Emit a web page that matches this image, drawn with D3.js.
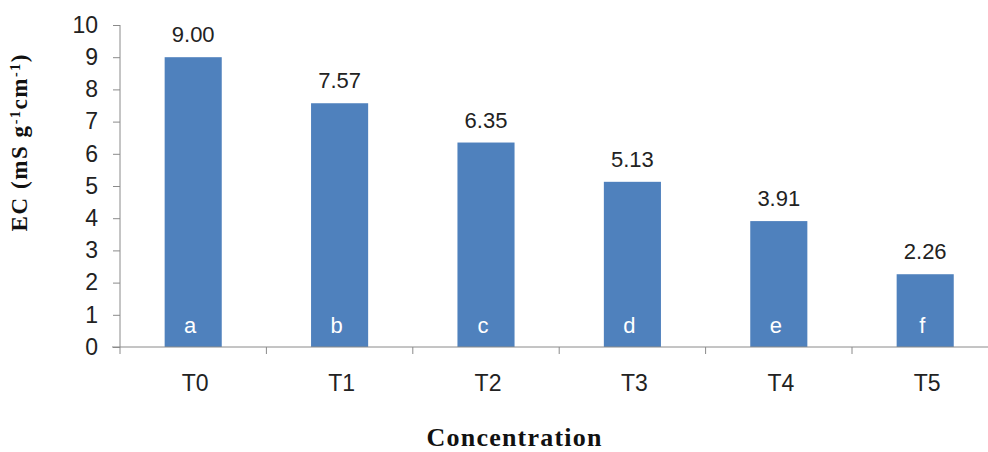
<!DOCTYPE html>
<html><head><meta charset="utf-8">
<script src="https://cdn.jsdelivr.net/npm/d3@7"></script>
<style>
html,body{margin:0;padding:0;background:#fff;}
svg{display:block;}
</style></head>
<body>
<svg id="chart" width="988" height="452"></svg>
<script>
const categories = ["T0","T1","T2","T3","T4","T5"];
const values = [9.00, 7.57, 6.35, 5.13, 3.91, 2.26];
const letters = ["a","b","c","d","e","f"];
const yTicks = [0,1,2,3,4,5,6,7,8,9,10];
const xTitle = "Concentration";

const svg = d3.select("#chart");
const W = 988, H = 452;
svg.append("rect").attr("width",W).attr("height",H).attr("fill","#fff");

const x = d3.scaleBand().domain(categories).range([120, 998.4]).paddingInner(0.61).paddingOuter(0.305);
const y = d3.scaleLinear().domain([0,10]).range([347, 25]);
const axisColor = "#8a8a8a";
const fontSans = "Arial, 'Liberation Sans', sans-serif";
const fontSerif = "'Times New Roman', 'Liberation Serif', serif";

// bars
svg.append("g").selectAll("rect").data(values).join("rect")
  .attr("x",(d,i)=>x(categories[i]))
  .attr("y",d=>y(d))
  .attr("width",x.bandwidth())
  .attr("height",d=>y(0)-y(d))
  .attr("fill","#4F81BD");

// y axis
const yAxis = d3.axisLeft(y).tickValues(yTicks).tickSize(7).tickPadding(15).tickFormat(d3.format("d"));
const gy = svg.append("g").attr("transform","translate(120,0)").call(yAxis);
gy.select(".domain").attr("stroke",axisColor).attr("d","M0,"+y(10)+"V"+y(0));
gy.selectAll(".tick line").attr("stroke",axisColor);
gy.selectAll(".tick text").attr("fill","#222").style("font-family",fontSans).style("font-size","23px");

// x axis
const xAxis = d3.axisBottom(x).tickSize(0).tickPadding(28);
const gx = svg.append("g").attr("transform","translate(0,"+y(0)+")").call(xAxis);
gx.select(".domain").attr("stroke",axisColor).attr("d","M112,0H988");
gx.selectAll(".tick text").attr("fill","#222").style("font-family",fontSans).style("font-size","23px").attr("dx",2);
// category boundary ticks
const bounds = categories.map(c => x(c) - (x.step()-x.bandwidth())/2);
gx.selectAll(".btick").data(bounds).join("line").attr("class","btick")
  .attr("x1",d=>d).attr("x2",d=>d).attr("y1",0).attr("y2",7).attr("stroke",axisColor);

// value labels
svg.append("g").selectAll("text").data(values).join("text")
  .attr("x",(d,i)=>x(categories[i])+x.bandwidth()/2)
  .attr("y",d=>y(d)-15)
  .attr("text-anchor","middle")
  .style("font-family",fontSans).style("font-size","22px").attr("fill","#222")
  .text(d=>d3.format(".2f")(d));

// letters inside bars
svg.append("g").selectAll("text").data(letters).join("text")
  .attr("x",(d,i)=>x(categories[i])+x.bandwidth()/2 - 3)
  .attr("y",y(0)-14)
  .attr("text-anchor","middle")
  .style("font-family",fontSans).style("font-size","22px").attr("fill","#fff")
  .text(d=>d);

// x title
svg.append("text")
  .attr("x",514).attr("y",446)
  .attr("text-anchor","middle")
  .attr("textLength",175).attr("lengthAdjust","spacing")
  .style("font-family",fontSerif).style("font-weight","bold").style("font-size","26px").attr("fill","#111")
  .text(xTitle);

// y title
const yt = svg.append("text")
  .attr("transform","translate(27,143) rotate(-90)")
  .attr("text-anchor","middle")
  .attr("textLength",177).attr("lengthAdjust","spacing")
  .style("font-family",fontSerif).style("font-weight","bold").style("font-size","23px").attr("fill","#111");
yt.append("tspan").text("EC (mS g");
yt.append("tspan").attr("baseline-shift","super").style("font-size","14px").text("-1");
yt.append("tspan").text("cm");
yt.append("tspan").attr("baseline-shift","super").style("font-size","14px").text("-1");
yt.append("tspan").text(")");
</script>
</body></html>
